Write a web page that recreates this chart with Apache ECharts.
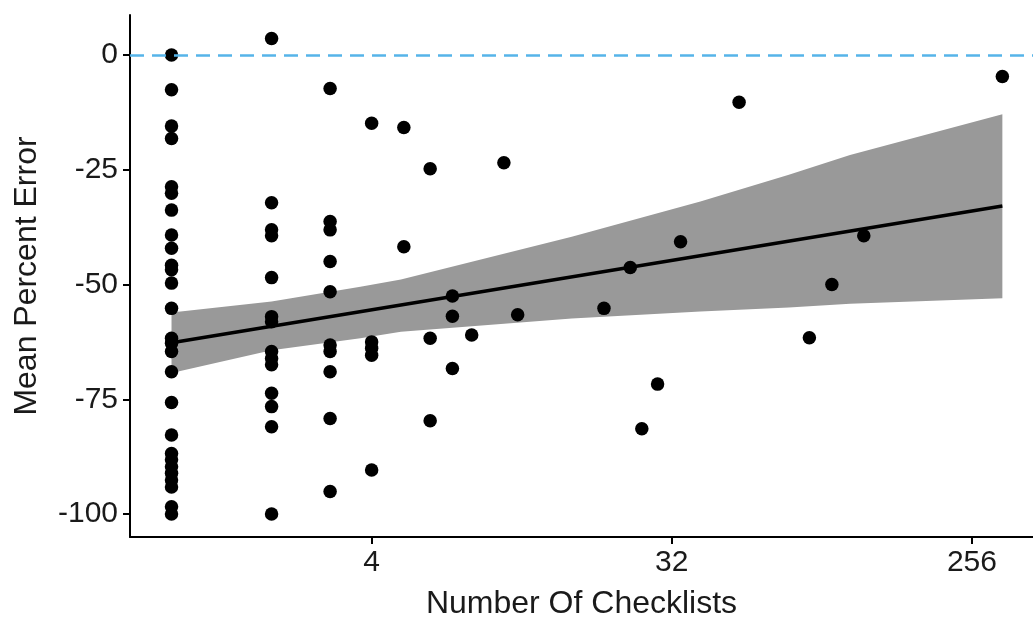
<!DOCTYPE html>
<html>
<head>
<meta charset="utf-8">
<script src="https://cdn.jsdelivr.net/npm/echarts@6/dist/echarts.min.js"></script>
<style>
  html, body { margin: 0; padding: 0; background: #fff; }
  #chart { width: 1033px; height: 621px; }
</style>
</head>
<body>
<div id="chart"></div>
<script>
// number of checklists and the mean percent errors seen at each count
const checklists = [1, 2, 3, 4, 5, 6, 7, 8, 10, 11, 20, 24, 26, 29, 34, 51, 83, 97, 121, 316];
const percentError = [
  [0, -7.6, -15.5, -18.2, -28.7, -30.1, -33.8, -39.2, -42.1, -45.8, -46.8, -49.7, -55.2, -61.7, -62.8,
   -64.6, -69.0, -75.7, -82.8, -86.8, -88.2, -89.7, -91.1, -92.6, -94.1, -98.4, -100],
  [3.6, -32.2, -38.1, -39.4, -48.5, -57.0, -58.1, -64.6, -66.1, -67.5, -73.7, -76.6, -81.0, -100],
  [-7.3, -36.3, -38.1, -45.0, -51.6, -63.2, -64.6, -69.0, -79.2, -95.1],
  [-14.9, -62.5, -63.9, -65.4, -90.4],
  [-15.8, -41.8],
  [-24.8, -61.7, -79.7],
  [-52.5, -56.9, -68.3],
  [-61.0],
  [-23.5],
  [-56.6],
  [-55.2],
  [-46.3],
  [-81.4],
  [-71.7],
  [-40.7],
  [-10.3],
  [-61.6],
  [-50.0],
  [-39.4],
  [-4.7]
];

// linear fit (on log2 scale) and its confidence band
const fitX = [1, 316];
const fitY = [-62.7, -32.9];
const bandX = [1, 2, 3.7, 4.9, 16, 39, 72, 110, 316];
const bandUpper = [-56.1, -53.7, -50.5, -48.9, -39.6, -31.9, -26.1, -21.8, -12.9];
const bandLower = [-69.3, -64.3, -61.7, -60.3, -57.4, -55.9, -55.0, -54.2, -53.0];

const xTicks = [4, 32, 256];
const yTicks = [-100, -75, -50, -25, 0];

const points = [];
checklists.forEach((n, i) => {
  percentError[i].forEach(v => points.push([Math.log2(n), v]));
});
const band = bandX.map((x, i) => [Math.log2(x), bandUpper[i], bandLower[i]]);

const chart = echarts.init(document.getElementById("chart"));
const font = "Liberation Sans, Arial, sans-serif";

chart.setOption({
  animation: false,
  grid: { left: 130, top: 15, right: 0, bottom: 84, outerBoundsMode: "none" },
  xAxis: {
    type: "value",
    min: -0.415,
    max: 8.61,
    name: "Number Of Checklists",
    nameLocation: "middle",
    nameGap: 51,
    nameTextStyle: { fontFamily: font, fontSize: 32, color: "#1a1a1a" },
    axisLine: { onZero: false, lineStyle: { color: "#000", width: 2 } },
    axisTick: { show: true, length: 7, lineStyle: { color: "#000", width: 2 }, customValues: xTicks.map(Math.log2) },
    axisLabel: {
      customValues: xTicks.map(Math.log2),
      margin: 11,
      fontFamily: font,
      fontSize: 30,
      color: "#1a1a1a",
      formatter: v => String(Math.round(Math.pow(2, v)))
    },
    splitLine: { show: false }
  },
  yAxis: {
    type: "value",
    min: -105,
    max: 8.7,
    name: "Mean Percent Error",
    nameLocation: "middle",
    nameGap: 87,
    nameTextStyle: { fontFamily: font, fontSize: 32, color: "#1a1a1a" },
    axisLine: { onZero: false, lineStyle: { color: "#000", width: 2 } },
    axisTick: { show: true, length: 7, lineStyle: { color: "#000", width: 2 }, customValues: yTicks },
    axisLabel: {
      customValues: yTicks,
      margin: 12,
      fontFamily: font,
      fontSize: 30,
      color: "#1a1a1a"
    },
    splitLine: { show: false }
  },
  series: [
    {
      type: "custom",
      z: 1,
      silent: true,
      data: band,
      renderItem: (params, api) => {
        if (params.dataIndex !== 0) return null;
        const pts = [];
        band.forEach(d => pts.push(api.coord([d[0], d[1]])));
        for (let i = band.length - 1; i >= 0; i--) {
          pts.push(api.coord([band[i][0], band[i][2]]));
        }
        return { type: "polygon", shape: { points: pts }, style: { fill: "#999999" } };
      }
    },
    {
      type: "line",
      z: 2,
      silent: true,
      symbol: "none",
      data: fitX.map((x, i) => [Math.log2(x), fitY[i]]),
      lineStyle: { color: "#000", width: 3.5 }
    },
    {
      type: "scatter",
      z: 3,
      symbolSize: 13.5,
      itemStyle: { color: "#000", opacity: 1 },
      data: points,
      markLine: {
        silent: true,
        symbol: "none",
        label: { show: false },
        lineStyle: { color: "#56B4E9", width: 2.5, type: [14, 8] },
        data: [{ yAxis: 0 }]
      }
    }
  ]
});
</script>
</body>
</html>
